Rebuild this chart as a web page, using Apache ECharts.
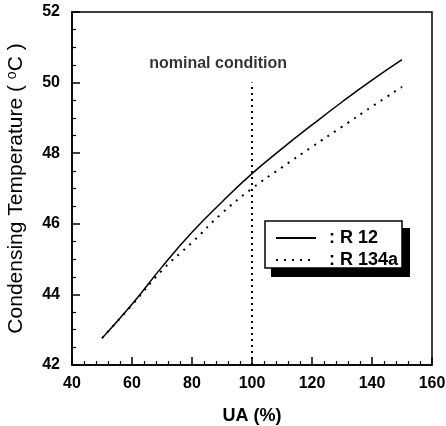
<!DOCTYPE html>
<html><head><meta charset="utf-8">
<script src="https://cdn.jsdelivr.net/npm/echarts@6/dist/echarts.min.js"></script>
<style>html,body{margin:0;padding:0;background:#fff}#c{width:446px;height:426px}</style>
</head><body><div id="c"></div>
<script>
const ua = [50, 60, 70, 80, 90, 100, 110, 120, 130, 140, 150];
const r12 = [42.76, 43.72, 44.78, 45.76, 46.62, 47.42, 48.13, 48.80, 49.45, 50.07, 50.65];
const r134a = [42.76, 43.70, 44.68, 45.47, 46.30, 47.00, 47.60, 48.18, 48.75, 49.32, 49.88];
const nominalX = 100;
const nominalLine = [[nominalX, 42], [nominalX, 50]];
const annotation = [[88.7, 50.55]];
const xTicks = [40, 60, 80, 100, 120, 140, 160];
const yTicks = [42, 44, 46, 48, 50, 52];

const FONT = "'Liberation Sans', Arial, sans-serif";
const chart = echarts.init(document.getElementById('c'), null, {renderer: 'canvas'});
chart.setOption({
  animation: false,
  backgroundColor: '#fff',
  grid: {left: 72, right: 14, top: 12, bottom: 61, show: true, borderColor: '#000', borderWidth: 1.5,
         containLabel: false, outerBoundsMode: 'none'},
  graphic: [
    {type: 'rect', z: 90, shape: {x: 271, y: 228, width: 139, height: 49}, style: {fill: '#000'}},
    {type: 'rect', z: 91, shape: {x: 265, y: 221, width: 137, height: 47}, style: {fill: '#fff', stroke: '#000', lineWidth: 1.5}}
  ],
  xAxis: {
    type: 'value', min: xTicks[0], max: xTicks[xTicks.length-1], interval: 20,
    name: 'UA (%)', nameLocation: 'middle', nameGap: 42,
    nameTextStyle: {fontFamily: FONT, fontWeight: 'bold', fontSize: 18, color: '#000'},
    axisLine: {show: true, lineStyle: {color: '#000', width: 1.5}},
    axisTick: {show: true, inside: true, length: 8, lineStyle: {color: '#000', width: 1.5}},
    minorTick: {show: true, splitNumber: 5, length: 4, lineStyle: {color: '#000', width: 1.2}},
    axisLabel: {fontFamily: FONT, fontWeight: 'bold', fontSize: 16, color: '#000', margin: 11},
    splitLine: {show: false}
  },
  yAxis: {
    type: 'value', min: yTicks[0], max: yTicks[yTicks.length-1], interval: 2,
    name: 'Condensing Temperature ( {sup|o}C )', nameLocation: 'middle', nameGap: 44, nameRotate: 90,
    nameTextStyle: {fontFamily: FONT, fontSize: 21, color: '#000',
      rich: {sup: {fontFamily: FONT, fontSize: 14, color: '#000', verticalAlign: 'top', padding: [0,0,9,0]}}},
    axisLine: {show: true, lineStyle: {color: '#000', width: 1.5}},
    axisTick: {show: true, inside: true, length: 8, lineStyle: {color: '#000', width: 1.5}},
    minorTick: {show: true, splitNumber: 4, length: 4, lineStyle: {color: '#000', width: 1.2}},
    axisLabel: {fontFamily: FONT, fontWeight: 'bold', fontSize: 16, color: '#000', margin: 12},
    splitLine: {show: false}
  },
  legend: {
    left: 275, top: 229, orient: 'vertical', z: 100,
    itemWidth: 40, itemHeight: 14, itemGap: 4,
    padding: 0,
    itemStyle: {color: 'rgba(0,0,0,0)', borderWidth: 0, opacity: 0},
    formatter: n => ': ' + n,
    textStyle: {fontFamily: FONT, fontWeight: 'bold', fontSize: 18, color: '#000', padding: [0,0,0,8]},
    data: ['R 12', 'R 134a']
  },
  series: [
    {name: 'R 12', type: 'line', smooth: true, symbol: 'none',
     data: ua.map((x, i) => [x, r12[i]]),
     lineStyle: {color: '#000', width: 1.5, type: 'solid'}, itemStyle: {color: '#000'}},
    {name: 'R 134a', type: 'line', smooth: true, symbol: 'none',
     data: ua.map((x, i) => [x, r134a[i]]),
     lineStyle: {color: '#000', width: 2, type: [2, 6]}, itemStyle: {color: '#000'}},
    {name: 'nominal', type: 'line', symbol: 'none', data: nominalLine,
     lineStyle: {color: '#000', width: 2, type: [2, 4]}},
    {name: 'note', type: 'scatter', symbolSize: 0, data: annotation,
     label: {show: true, position: 'inside', formatter: 'nominal condition',
       fontFamily: FONT, fontWeight: 'bold', fontSize: 16, color: '#000'}}
  ]
});
</script></body></html>
